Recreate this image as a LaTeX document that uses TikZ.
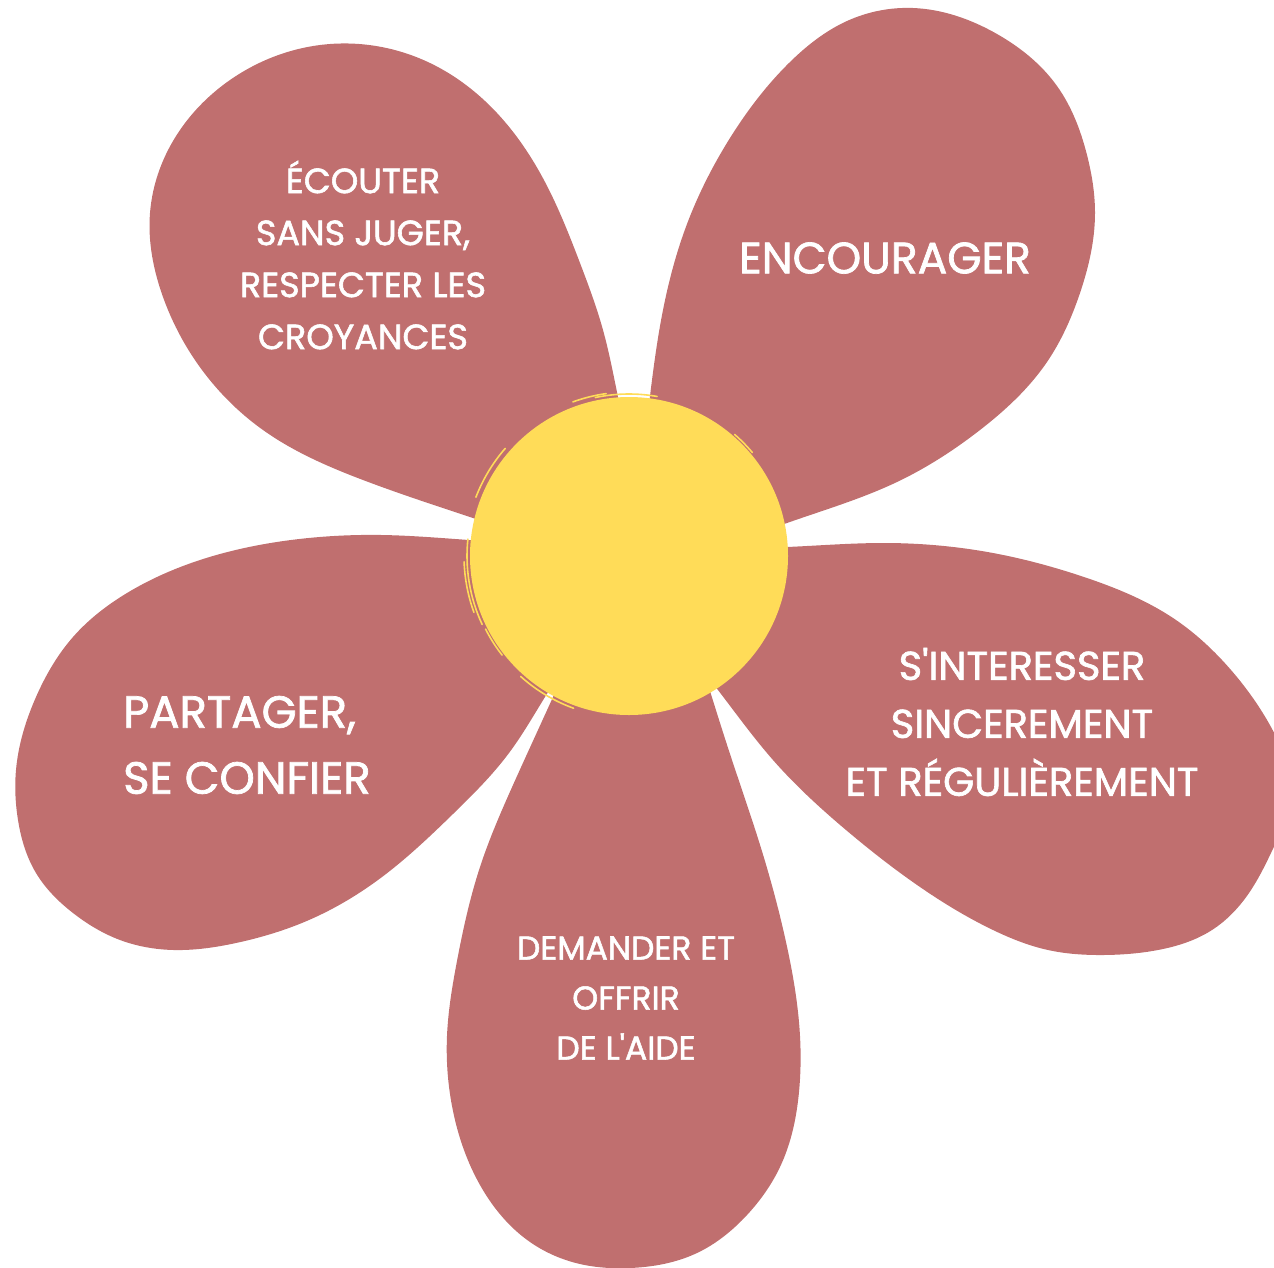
\documentclass[tikz,border=0pt]{standalone}
\usepackage{fontspec}
\usetikzlibrary{hobby}
\newfontfamily\hand{Poppins}[FakeBold=1.6]
\definecolor{petalc}{RGB}{192,111,111}
\definecolor{coeurc}{RGB}{255,220,88}
\begin{document}
\begin{tikzpicture}[x=1pt,y=-1pt,
  petal/.style={fill=petalc, draw=none},
  lbl/.style={text=white, inner sep=0pt, align=center},
  brush/.style={draw=coeurc, line width=1.6pt, line cap=round}]
\useasboundingbox (0,0) rectangle (1274,1267);
\clip (0,0) rectangle (1274,1267);
\coordinate (tip) at (629,556);
% petals
\fill[petal] (tip) -- (503,528) to[curve through={(473,518) .. (363,480) .. (263,430) .. (197,363) .. (163,297) .. (150,213) .. (180,130) .. (230,80) .. (330,44) .. (430,63) .. (497,113) .. (545,182) .. (580,263) .. (603,330) .. (618,397)}] (624,425) -- cycle;
\fill[petal] (tip) -- (646,430) to[curve through={(650,396) .. (663,310) .. (687,224) .. (730,138) .. (790,62) .. (847,21) .. (913,8) .. (997,34) .. (1057,86) .. (1087,155) .. (1095,213) .. (1080,293) .. (1047,362) .. (980,430) .. (897,482) .. (787,523)}] (757,534) -- cycle;
\fill[petal] (tip) -- (757,548) to[curve through={(787,547) .. (883,543) .. (993,553) .. (1084,577) .. (1176,620) .. (1231,670) .. (1271,727) .. (1290,790) .. (1271,853) .. (1249,893) .. (1212,930) .. (1158,950) .. (1103,955) .. (1048,950) .. (993,930) .. (920,887) .. (846,830) .. (773,760) .. (718,690)}] (700,667) -- cycle;
\fill[petal] (tip) -- (702,665) to[curve through={(710,691) .. (731,757) .. (761,848) .. (786,942) .. (800,1036) .. (799,1092) .. (780,1167) .. (747,1215) .. (697,1253) .. (630,1268) .. (580,1264) .. (530,1242) .. (480,1185) .. (453,1111) .. (447,1036) .. (457,961) .. (480,867) .. (513,785) .. (553,697)}] (566,668) -- cycle;
\fill[petal] (tip) -- (561,672) to[curve through={(545,697) .. (509,753) .. (454,813) .. (382,877) .. (309,920) .. (236,943) .. (174,950) .. (120,940) .. (73,913) .. (36,873) .. (18,820) .. (16,770) .. (36,697) .. (73,637) .. (127,593) .. (200,560) .. (291,540) .. (382,535) .. (469,540)}] (499,542) -- cycle;
% centre
\node[circle, fill=coeurc, inner sep=0pt, minimum size=318pt] (coeur) at (tip) {};
\draw[brush] (coeur.center) ++(258:162) arc[start angle=258, end angle=280, radius=162];
\draw[brush] (coeur.center) ++(250:164) arc[start angle=250, end angle=262, radius=164];
\draw[brush] (coeur.center) ++(201:164) arc[start angle=201, end angle=221, radius=164];
\draw[brush] (coeur.center) ++(155:162) arc[start angle=155, end angle=186, radius=162];
\draw[brush] (coeur.center) ++(160:165) arc[start angle=160, end angle=178, radius=165];
\draw[brush] (coeur.center) ++(142:161) arc[start angle=142, end angle=153, radius=161];
\draw[brush] (coeur.center) ++(110:162) arc[start angle=110, end angle=132, radius=162];
\draw[brush] (coeur.center) ++(311:161) arc[start angle=311, end angle=320, radius=161];
% labels
\node[lbl, font=\hand\fontsize{35}{52}\selectfont] (ecouter) at (363,255) {ÉCOUTER\\SANS JUGER,\\RESPECTER LES\\CROYANCES};
\node[lbl, font=\hand\fontsize{44}{56}\selectfont] (encourager) at (885,258) {ENCOURAGER};
\node[lbl, font=\hand\fontsize{40}{58}\selectfont] (interesser) at (1022,722) {S\textquotesingle INTERESSER\\SINCEREMENT\\ET RÉGULIÈREMENT};
\node[lbl, font=\hand\fontsize{33}{50}\selectfont] (aide) at (626,998) {DEMANDER ET\\OFFRIR\\DE L\textquotesingle AIDE};
\node[lbl, align=left, anchor=west, font=\hand\fontsize{45}{66}\selectfont] (partager) at (123,745) {PARTAGER,\\SE CONFIER};
\end{tikzpicture}
\end{document}
